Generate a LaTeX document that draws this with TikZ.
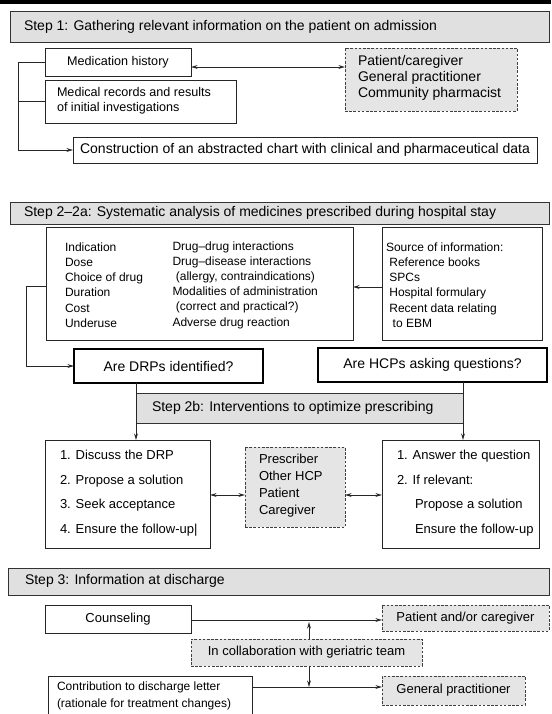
\documentclass[tikz,border=0pt]{standalone}
\usepackage{fontspec}
\setmainfont{Liberation Sans}
\usetikzlibrary{arrows.meta}
\definecolor{hdrgray}{gray}{0.88}
\definecolor{dshgray}{gray}{0.9}
\newcommand\fhd{\fontsize{14}{16}\selectfont}
\begin{document}
\begin{tikzpicture}[x=1pt,y=-1pt,
  every node/.style={inner sep=0pt, outer sep=0pt},
  box/.style={draw=black!85, line width=0.9pt, fill=white, anchor=north west},
  hdrbox/.style={draw=black!80, line width=0.9pt, fill=hdrgray, anchor=north west},
  dbox/.style={draw=black!75, dash pattern=on 2.6pt off 1.6pt, line width=0.9pt, fill=dshgray, anchor=north west},
  qbox/.style={draw=black, line width=1.7pt, fill=white, anchor=north west},
  conn/.style={line width=0.9pt, draw=black!85},
  arr/.style={conn, -{Stealth[length=6.5pt,width=3.8pt]}},
  darr/.style={conn, {Stealth[length=6.5pt,width=3.8pt]}-{Stealth[length=6.5pt,width=3.8pt]}},
]
\useasboundingbox (0,0) rectangle (551,714);
\clip (0,0) rectangle (551,714);
\fill[black] (0,0) rectangle (551,4);

% ---------- Step 1
\node[hdrbox, minimum width=539, minimum height=31] (h1) at (10,11) {};
\node[anchor=west, font=\fhd] (h1t) at (24,27) {Step 1: Gathering relevant information on the patient on admission};

\node[box, minimum width=146, minimum height=28, font=\fontsize{12.6}{15}\selectfont] (mh) at (45,48) {Medication history};
\node[box, minimum width=191, minimum height=43] (mr) at (45,80) {};
\node[anchor=west, align=left, font=\fontsize{12.6}{15}\selectfont] (mrt) at (57,101) {Medical records and results\\of initial investigations};
\node[dbox, minimum width=172, minimum height=63] (pc) at (345,48) {};
\node[anchor=west, align=left, font=\fontsize{14}{16}\selectfont] (pct) at (358,77.5) {Patient/caregiver\\General practitioner\\Community pharmacist};
\node[box, minimum width=464, minimum height=26, font=\fhd] (con) at (73,137) {Construction of an abstracted chart with clinical and pharmaceutical data};

\coordinate (b1) at (18,0 |- mh.west);
\coordinate (b3) at (18,0 |- con.west);
\draw[conn] (mh.west) -- (b1) -- (b3);
\draw[conn] (mr.west) -- (mr.west -| b1);
\draw[arr] (b3) -- (con.west);
\draw[darr] (mh.east |- 0,67) -- (pc.west |- 0,67);

% ---------- Step 2
\node[hdrbox, minimum width=539, minimum height=22] (h2) at (10,202) {};
\node[anchor=west, font=\fhd] (h2t) at (24,213) {Step 2--2a: Systematic analysis of medicines prescribed during hospital stay};

\node[box, minimum width=307, minimum height=113] (crit) at (46,227) {};
\node[anchor=west, align=left, font=\fontsize{12}{15.2}\selectfont] (critA) at (65,285) {Indication\\Dose\\Choice of drug\\Duration\\Cost\\Underuse};
\node[anchor=west, align=left, font=\fontsize{12}{15.2}\selectfont] (critB) at (172.5,285) {Drug--drug interactions\\Drug--disease interactions\\\ (allergy, contraindications)\\Modalities of administration\\\ (correct and practical?)\\Adverse drug reaction};
\node[box, minimum width=160, minimum height=113] (src) at (382,227) {};
\node[anchor=west, align=left, font=\fontsize{12}{15.2}\selectfont] (srct) at (386,285) {Source of information:\\\ Reference books\\\ SPCs\\\ Hospital formulary\\\ Recent data relating\\\ \ to EBM};
\draw[arr] (src.west |- 0,287) -- (crit.east |- 0,287);

\node[qbox, minimum width=189, minimum height=34, font=\fhd] (drp) at (74,349) {Are DRPs identified?};
\node[qbox, minimum width=229, minimum height=34, font=\fhd] (hcp) at (318,348) {Are HCPs asking questions?};
\coordinate (l1) at (26,286);
\coordinate (l2) at (26,0 |- drp.west);
\draw[conn] (crit.west |- l1) -- (l1) -- (l2);
\draw[arr] (l2) -- (drp.west);

\node[hdrbox, minimum width=327, minimum height=30] (s2b) at (136,393) {};
\node[anchor=west, font=\fhd] (s2bt) at (152,408) {Step 2b: Interventions to optimize prescribing};

\node[box, minimum width=165, minimum height=108] (int1) at (45,440) {};
\node[anchor=west, align=left, font=\fontsize{13}{24.6}\selectfont] (int1t) at (60,493) {1. Discuss the DRP\\2. Propose a solution\\3. Seek acceptance\\4. Ensure the follow-up|};
\node[dbox, minimum width=100, minimum height=80] (mid) at (245,447) {};
\node[anchor=west, align=left, font=\fontsize{13}{17}\selectfont] (midt) at (259,486) {Prescriber\\Other HCP\\Patient\\Caregiver};
\node[box, minimum width=157, minimum height=108] (int2) at (382,440) {};
\node[anchor=west, align=left, font=\fontsize{13}{24.6}\selectfont] (int2t) at (397,493) {1. Answer the question\\2. If relevant:\\\hspace{18pt}Propose a solution\\\hspace{18pt}Ensure the follow-up};

\draw[arr] (drp.south -| 136,0) -- (int1.north -| 136,0);
\draw[arr] (hcp.south -| 463,0) -- (int2.north -| 463,0);
\draw[darr] (int1.east |- 0,495) -- (mid.west |- 0,495);
\draw[darr] (mid.east |- 0,495) -- (int2.west |- 0,495);

% ---------- Step 3
\node[hdrbox, minimum width=541, minimum height=27] (h3) at (8,568) {};
\node[anchor=west, font=\fhd] (h3t) at (25,581) {Step 3: Information at discharge};

\node[box, minimum width=146, minimum height=28, font=\fontsize{13}{15}\selectfont] (cou) at (45,605) {Counseling};
\node[dbox, minimum width=167, minimum height=26, font=\fontsize{13}{15}\selectfont] (pac) at (382,605) {Patient and/or caregiver};
\node[dbox, minimum width=231, minimum height=27, font=\fontsize{13}{15}\selectfont] (ger) at (191,639) {In collaboration with geriatric team};
\node[box, minimum width=204, minimum height=44] (ctb) at (48,676) {};
\node[anchor=west, align=left, font=\fontsize{12}{17}\selectfont] (ctbt) at (57,696) {Contribution to discharge letter\\(rationale for treatment changes)};
\node[dbox, minimum width=143, minimum height=29, font=\fontsize{13}{15}\selectfont] (gp) at (382,676) {General practitioner};

\draw[arr] (cou.east |- 0,620) -- (pac.west |- 0,620);
\draw[arr] (ctb.east |- 0,687) -- (gp.west |- 0,687);
\draw[arr] (ger.north -| 309,0) -- (309,622);
\draw[arr] (ger.south -| 309,0) -- (309,687);
\end{tikzpicture}
\end{document}
